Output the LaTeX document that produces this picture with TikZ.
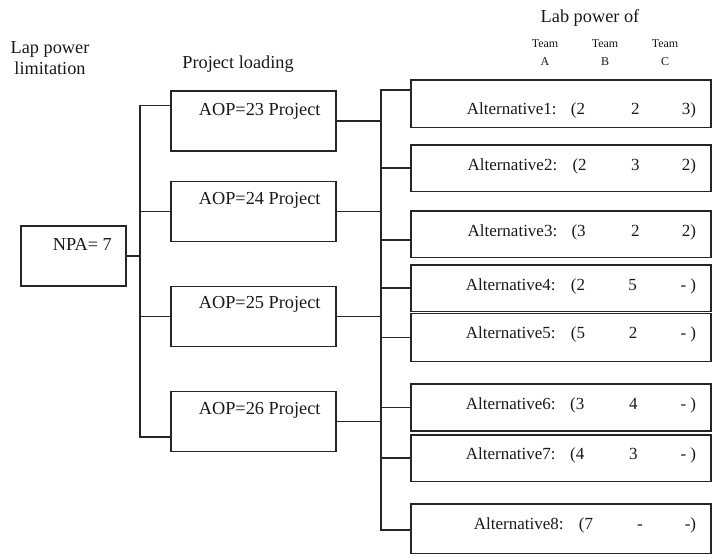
\documentclass[tikz,border=0pt]{standalone}
\usepackage{fontspec}
\setmainfont{Liberation Serif}
\begin{document}
\begin{tikzpicture}[x=1pt, y=-1pt, line width=1.7pt, black!85,
  box/.style={draw, rectangle, inner sep=0pt, anchor=north west},
  big/.style={font=\fontsize{18.3}{20}\selectfont, inner sep=0pt, text=black!90},
  alt/.style={font=\fontsize{17}{19}\selectfont, inner sep=0pt, text=black!90},
  small/.style={font=\fontsize{12}{13}\selectfont, inner sep=0pt, text=black!90}]
\useasboundingbox (0,0) rectangle (713,558);

% column headings
\node[big, anchor=base] (lap1) at (50,53.3) {Lap power};
\node[big, anchor=base] (lap2) at (50,74) {limitation};
\node[big, anchor=base] (load) at (238,68.3) {Project loading};
\node[big, anchor=base] (labpow) at (590,22.7) {Lab power of};
\foreach \t/\x in {A/545,B/605,C/665}{
  \node[small, anchor=base] (team\t) at (\x,47.3) {Team};
  \node[small, anchor=base] (letter\t) at (\x,65) {\t};
}

% root
\node[box, minimum width=105, minimum height=60] (npa) at (20,225) {};
\node[big, anchor=base west] (npatxt) at (52,250) {NPA= 7};

% projects
\foreach \p/\yt/\bl in {23/90/115, 24/180.5/204, 25/285.7/308.3, 26/390.7/414.3}{
  \node[box, minimum width=165, minimum height=60] (p\p) at (170,\yt) {};
  \node[big, anchor=base west] (p\p txt) at (198,\bl) {AOP=\p{} Project};
}

% alternatives
\foreach \i/\yt/\yb/\bl/\lx/\ax/\va/\bx/\vb/\vc in {
  1/79.3/126.7/114.3/466/570/{(2}/635.3/2/{3)},
  2/144/190.7/170.7/466.7/571.7/{(2}/635.3/3/{2)},
  3/210/256.7/236.7/466.7/570.7/{(3}/635.3/2/{2)},
  4/264/310.7/290/465/570/{(2}/632.7/5/{- )},
  5/312.7/360.7/338.7/465/570/{(5}/633/2/{- )},
  6/383.3/430/409.3/465/569.3/{(3}/633.3/4/{- )},
  7/434/480.7/459.3/465/569.3/{(4}/633.3/3/{- )},
  8/503.3/552.7/529.3/473/578/{(7}/640/-/{-)}}{
  \node[box, minimum width=300, minimum height=\yb-\yt] (alt\i) at (410,\yt) {};
  \node[alt, anchor=base west] (alt\i name) at (\lx,\bl) {Alternative\i:};
  \node[alt, anchor=base west] (alt\i a) at (\ax,\bl) {\va};
  \node[alt, anchor=base] (alt\i b) at (\bx,\bl) {\vb};
  \node[alt, anchor=base east] (alt\i c) at (697,\bl) {\vc};
}

% left tree: root to projects
\coordinate (lbus) at (140,0);
\coordinate (s23) at ([yshift=-15.6pt]p23.north west);
\coordinate (s26) at ([yshift=15.7pt]p26.south west);
\draw (npa.east) -- (npa.east -| lbus);
\draw (s23) -- (s23 -| lbus) -- (s26 -| lbus) -- (s26);
\foreach \p in {24,25}
  \draw (p\p.west) -- (p\p.west -| lbus);

% right tree: projects to alternatives
\coordinate (rbus) at (380.7,0);
\coordinate (a1) at ([yshift=-10.7pt]alt1.north west);
\coordinate (a8) at ([yshift=-1.3pt]alt8.west);
\foreach \p in {23,...,26}
  \draw (p\p.east) -- (p\p.east -| rbus);
\draw (a1) -- (a1 -| rbus) -- (a8 -| rbus) -- (a8);
\foreach \j in {2,4,5,6,7}
  \draw (alt\j.west) -- (alt\j.west -| rbus);
\draw ([yshift=-6pt]alt3.west) -- ([yshift=-6pt]alt3.west -| rbus);
\end{tikzpicture}
\end{document}
